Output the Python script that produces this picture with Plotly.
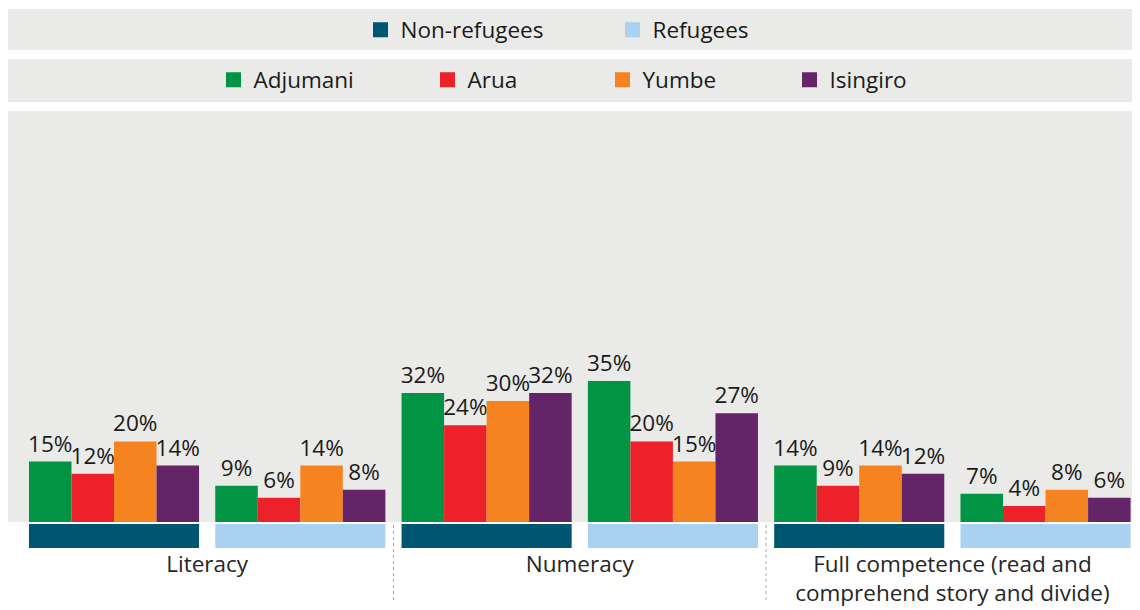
import plotly.graph_objects as go

# data
groups = ['Literacy|NR', 'Literacy|R', 'Numeracy|NR', 'Numeracy|R', 'Full|NR', 'Full|R']
categories = ['Literacy', 'Numeracy', 'Full competence (read and<br>comprehend story and divide)']
districts = ['Adjumani', 'Arua', 'Yumbe', 'Isingiro']
adjumani = [15, 9, 32, 35, 14, 7]
arua = [12, 6, 24, 20, 9, 4]
yumbe = [20, 14, 30, 15, 14, 8]
isingiro = [14, 8, 32, 27, 12, 6]
populations = ['Non-refugees', 'Refugees']

values = [adjumani, arua, yumbe, isingiro]
district_colors = ['#009444', '#ED2129', '#F58420', '#632568']
pop_colors = ['#005670', '#AAD1F0']

W, H = 1140, 610
OFF = 8  # page body margin
FONT = 'Open Sans'
FS = 22.5
GRAY = '#EAEAE8'

def py(px):  # screen row -> paper y
    return (H - (px - OFF)) / H

def pxx(px):  # screen column -> paper x
    return (px - OFF) / W

pos = list(range(len(groups)))

fig = go.Figure()

for name, vals, col in zip(districts, values, district_colors):
    fig.add_trace(go.Bar(
        x=pos, y=vals, name=name, marker_color=col, marker_line_width=0,
        text=[f'{v}%' for v in vals], textposition='outside',
        textfont=dict(family=FONT, size=FS, color='#1a1a1a'),
        constraintext='none', cliponaxis=False,
        showlegend=False, hoverinfo='skip',
    ))

# population strips under the bars
for i, (name, col) in enumerate(zip(populations, pop_colors)):
    xs = pos[i::2]
    fig.add_trace(go.Bar(
        x=xs, y=[1] * len(xs), name=name, marker_color=col, marker_line_width=0,
        width=0.913, offset=-0.4565, xaxis='x2', yaxis='y2',
        showlegend=False, hoverinfo='skip',
    ))

# legend entries: one small legend per item, each in its grey band
legend_items = [
    ('Non-refugees', pop_colors[0], 374, 30),
    ('Refugees', pop_colors[1], 626, 30),
    ('Adjumani', district_colors[0], 227, 80),
    ('Arua', district_colors[1], 441, 80),
    ('Yumbe', district_colors[2], 616, 80),
    ('Isingiro', district_colors[3], 803, 80),
]
legends = {}
for k, (name, col, sx, sy) in enumerate(legend_items):
    key = 'legend' if k == 0 else f'legend{k + 1}'
    fig.add_trace(go.Scatter(
        x=[None], y=[None], mode='markers', name=name, legend=key,
        marker=dict(symbol='square', size=15, color=col, line_width=0),
    ))
    legends[key] = dict(x=pxx(sx - 13.5), xanchor='left', y=py(sy), yanchor='middle',
                        bgcolor='rgba(0,0,0,0)', itemclick=False,
                        font=dict(family=FONT, size=FS, color='#1a1a1a'))

xr = [-0.569, 5.550]

fig.update_layout(
    width=W, height=H,
    margin=dict(l=0, r=0, t=0, b=0),
    paper_bgcolor='white', plot_bgcolor='rgba(0,0,0,0)',
    barmode='group', bargap=0.087, bargroupgap=0,
    font=dict(family=FONT, color='#1a1a1a'),
    xaxis=dict(domain=[0, 1], range=xr, visible=False),
    yaxis=dict(domain=[py(522), py(111)], range=[0, 102], visible=False),
    xaxis2=dict(domain=[0, 1], range=xr, anchor='y2', matches='x',
                showline=False, showgrid=False, zeroline=False, ticks='',
                tickvals=[0.5, 2.5, 4.5], ticktext=categories,
                tickfont=dict(family=FONT, size=FS, color='#262626')),
    yaxis2=dict(domain=[py(548), py(524)], range=[0, 1], visible=False),
    showlegend=True,
    **legends,
)

# grey panels: two legend boxes and plot area
for y0, y1 in [(9, 50), (59, 102), (111, 522)]:
    fig.add_shape(type='rect', xref='paper', yref='paper', x0=0, x1=1,
                  y0=py(y1), y1=py(y0), fillcolor=GRAY, line_width=0, layer='below')

# dotted separators between categories
for xv in [1.5, 3.5]:
    fig.add_shape(type='line', xref='x', yref='paper', x0=xv, x1=xv,
                  y0=py(600), y1=py(522), line=dict(color='#A6A6A6', width=1, dash='dot'))

fig.write_html('out.html')
